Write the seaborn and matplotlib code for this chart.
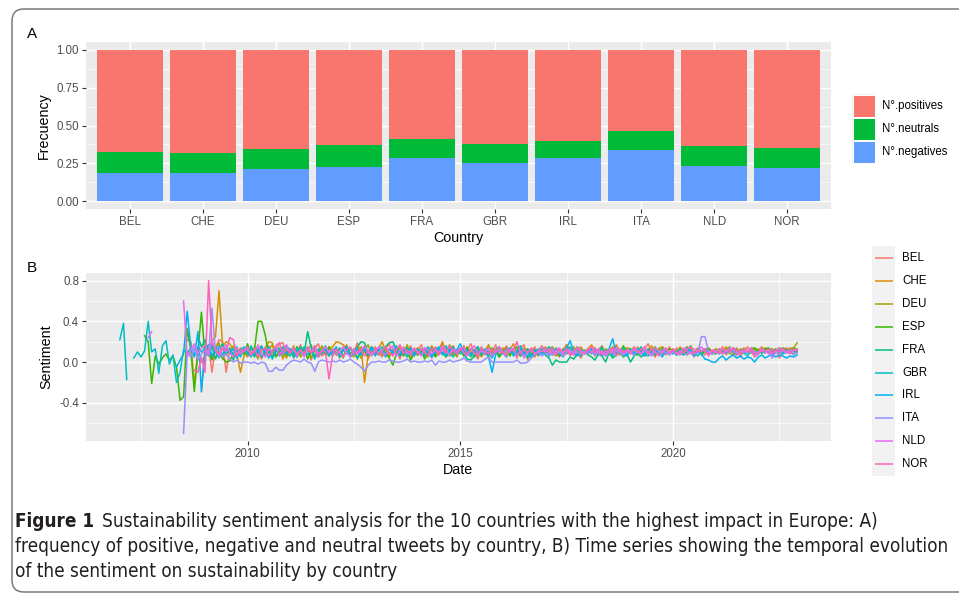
import numpy as np
import pandas as pd
import matplotlib
matplotlib.use("Agg")
import matplotlib.pyplot as plt
import matplotlib.dates as mdates
import matplotlib.font_manager as fm
from matplotlib.patches import FancyBboxPatch, Rectangle
from matplotlib.ticker import FixedLocator, FuncFormatter
import seaborn as sns

nan = np.nan

# ---------------- Panel A: share of tweets by polarity ----------------
countries = ["BEL", "CHE", "DEU", "ESP", "FRA", "GBR", "IRL", "ITA", "NLD", "NOR"]
share_negatives = [0.185, 0.185, 0.212, 0.225, 0.285, 0.252, 0.285, 0.338, 0.232, 0.219]
share_neutrals = [0.140, 0.133, 0.132, 0.146, 0.126, 0.125, 0.112, 0.126, 0.132, 0.132]
share_positives = [0.675, 0.682, 0.656, 0.629, 0.589, 0.623, 0.603, 0.536, 0.636, 0.649]
polarity_labels = ["N°.positives", "N°.neutrals", "N°.negatives"]
polarity_colors = ["#F8766D", "#00BA38", "#619CFF"]

# ---------------- Panel B: monthly mean sentiment ----------------
series_start = {
    "BEL": "2008-12-01", "CHE": "2008-08-01", "DEU": "2009-01-01",
    "ESP": "2007-08-01", "FRA": "2008-11-01", "GBR": "2007-01-01",
    "IRL": "2008-05-01", "ITA": "2008-07-01", "NLD": "2007-09-01",
    "NOR": "2008-10-01",
}

BEL = [
    -0.29,
    0.12, 0.16, -0.10, 0.14, 0.22, 0.20, -0.10, 0.12, 0.08, 0.05, 0.14, 0.10,
    0.05, 0.14, 0.08, 0.17, 0.03, 0.11, 0.16, 0.06, 0.12, 0.18, 0.19, 0.07,
    0.13, 0.04, 0.10, 0.17, 0.08, 0.12, 0.02, 0.14, 0.18, 0.06, 0.09, 0.15,
    0.07, 0.14, 0.04, 0.12, 0.17, 0.06, 0.10, 0.19, 0.08, 0.13, 0.03, 0.11,
    0.15, 0.09, 0.05, 0.13, 0.18, 0.07, 0.12, 0.03, 0.15, 0.09, 0.16, 0.06,
    0.12, 0.17, 0.07, 0.14, 0.04, 0.15, 0.09, 0.19, 0.05, 0.11, 0.16, 0.08,
    0.14, 0.06, 0.11, 0.18, 0.09, 0.03, 0.15, 0.07, 0.13, 0.10, 0.17, 0.05,
    0.10, 0.16, 0.07, 0.12, 0.04, 0.14, 0.17, 0.02, 0.10, 0.15, 0.06, 0.12,
    0.15, 0.07, 0.13, 0.09, 0.05, 0.12, 0.17, 0.08, 0.14, 0.10, 0.04, 0.12,
    0.09, 0.14, 0.06, 0.12, 0.16, 0.08, 0.13, 0.10, 0.17, 0.11, 0.06, 0.14,
    0.12, 0.07, 0.15, 0.09, 0.13, 0.18, 0.10, 0.05, 0.14, 0.11, 0.07, 0.15,
    0.09, 0.14, 0.07, 0.12, 0.15, 0.10, 0.05, 0.13, 0.11, 0.07, 0.14, 0.10,
    0.13, 0.09, 0.15, 0.07, 0.12, 0.10, 0.14, 0.05, 0.11, 0.15, 0.09, 0.07,
    0.11, 0.15, 0.09, 0.13, 0.06, 0.12, 0.04, 0.10, 0.14, 0.11, 0.07, 0.13,
]

CHE = [
    0.22, 0.20, -0.23, 0.13, 0.00,
    0.05, 0.12, 0.20, 0.25, 0.70, 0.15, 0.20, 0.18, 0.12, 0.08, -0.10, 0.06,
    0.13, 0.07, 0.15, 0.09, 0.04, 0.14, 0.20, 0.19, 0.06, 0.12, 0.03, 0.13,
    0.09, 0.16, 0.05, 0.13, 0.08, 0.11, 0.17, 0.04, 0.10, 0.15, 0.07, 0.13,
    0.15, 0.20, 0.19, 0.17, 0.12, 0.08, 0.05, 0.12, 0.15, -0.20, 0.07, 0.12,
    0.09, 0.14, 0.20, 0.11, 0.06, 0.13, 0.08, 0.16, 0.10, 0.13, 0.05, 0.11,
    0.14, 0.07, 0.13, 0.09, 0.16, 0.06, 0.12, 0.20, 0.09, 0.14, 0.07, 0.12,
    0.10, 0.16, 0.07, 0.13, 0.09, 0.15, 0.05, 0.11, 0.17, 0.08, 0.13, 0.07,
    0.14, 0.09, 0.12, 0.18, 0.10, 0.06, 0.14, 0.09, 0.13, 0.05, 0.11, 0.16,
    0.09, 0.13, 0.07, 0.14, 0.11, 0.08, 0.17, 0.12, 0.07, 0.11, 0.15, 0.09,
    0.13, 0.17, 0.10, 0.07, 0.14, 0.09, 0.12, 0.10, 0.16, 0.09, 0.13, 0.08,
    0.11, 0.15, 0.09, 0.13, 0.07, 0.12, 0.16, 0.09, 0.13, 0.15, 0.10, 0.08,
    0.13, 0.09, 0.15, 0.11, 0.07, 0.13, 0.09, 0.14, 0.10, 0.13, 0.08, 0.11,
    0.09, 0.13, 0.11, 0.15, 0.09, 0.07, 0.13, 0.10, 0.14, 0.09, 0.13, 0.11,
    0.13, 0.09, 0.14, 0.11, 0.13, 0.09, 0.14, 0.12, 0.10, 0.14, 0.13, 0.11,
]

DEU = [
    0.10, 0.17, 0.05, 0.14, 0.19, 0.03, 0.12, 0.08, 0.16, 0.05, 0.13, 0.09,
    0.06, 0.14, 0.10, 0.03, 0.15, 0.08, 0.12, 0.17, 0.06, 0.10, 0.14, 0.04,
    0.12, 0.07, 0.15, 0.05, 0.10, 0.14, 0.04, 0.12, 0.08, 0.16, 0.10, 0.06,
    0.13, 0.09, 0.05, 0.12, 0.16, 0.07, 0.13, 0.10, 0.04, 0.12, 0.17, 0.08,
    0.10, 0.14, 0.07, 0.15, 0.05, 0.12, 0.09, 0.14, 0.07, 0.17, 0.10, 0.12,
    0.07, 0.13, 0.10, 0.05, 0.15, 0.12, 0.07, 0.14, 0.09, 0.17, 0.12, 0.05,
    0.13, 0.09, 0.15, 0.07, 0.12, 0.05, 0.14, 0.10, 0.16, 0.07, 0.12, 0.14,
    0.10, 0.06, 0.13, 0.12, 0.07, 0.15, 0.09, 0.13, 0.06, 0.12, 0.10, 0.15,
    0.12, 0.15, 0.09, 0.06, 0.13, 0.08, 0.12, 0.10, 0.15, 0.08, 0.13, 0.10,
    0.08, 0.12, 0.14, 0.10, 0.06, 0.13, 0.11, 0.15, 0.09, 0.07, 0.12, 0.14,
    0.13, 0.09, 0.07, 0.14, 0.11, 0.09, 0.13, 0.07, 0.12, 0.15, 0.10, 0.13,
    0.11, 0.08, 0.13, 0.10, 0.15, 0.11, 0.08, 0.13, 0.09, 0.12, 0.14, 0.10,
    0.13, 0.11, 0.09, 0.13, 0.08, 0.14, 0.11, 0.09, 0.13, 0.11, 0.14, 0.12,
    0.10, 0.14, 0.12, 0.09, 0.13, 0.11, 0.14, 0.12, 0.10, 0.12, 0.14, 0.19,
]

ESP = [
    0.26, 0.20, -0.21, 0.06, -0.02,
    0.04, 0.08, 0.02, 0.06, -0.05, -0.375, -0.34, 0.33, 0.12, -0.29, 0.10, 0.49,
    0.06, 0.10, 0.02, 0.12, 0.08, 0.04, 0.00, 0.01, 0.09, 0.05, 0.12, 0.08,
    0.18, 0.06, 0.12, 0.40, 0.40, 0.27, 0.08, 0.12, 0.05, 0.10, 0.14, 0.09,
    0.12, 0.05, 0.15, 0.08, 0.13, 0.03, 0.10, 0.16, 0.07, 0.12, 0.08, 0.15,
    0.06, 0.13, 0.10, 0.04, 0.15, 0.08, 0.12, 0.03, 0.13, 0.10, 0.06, 0.15,
    0.10, 0.07, 0.12, 0.09, 0.04, -0.03, 0.08, 0.11, 0.06, 0.10, 0.02, 0.09,
    0.07, 0.11, 0.03, 0.09, 0.12, 0.05, 0.10, 0.08, 0.13, 0.06, 0.10, 0.09,
    0.12, 0.06, 0.14, 0.10, 0.05, 0.15, 0.08, 0.12, 0.06, 0.14, 0.10, 0.05,
    0.10, 0.14, 0.06, 0.12, 0.15, 0.08, 0.10, 0.13, 0.05, 0.12, 0.08, 0.14,
    0.08, 0.12, 0.15, 0.09, 0.06, 0.13, 0.08, 0.12, 0.10, 0.15, 0.06, 0.10,
    0.13, 0.08, 0.12, 0.10, 0.15, 0.06, 0.12, 0.08, 0.13, 0.10, 0.16, 0.08,
    0.10, 0.13, 0.07, 0.12, 0.06, 0.13, 0.10, 0.15, 0.08, 0.12, 0.10, 0.13,
    0.11, 0.07, 0.13, 0.09, 0.11, 0.16, 0.09, 0.13, 0.07, 0.11, 0.13, 0.09,
    0.08, 0.13, 0.10, 0.11, 0.15, 0.09, 0.07, 0.13, 0.11, 0.09, 0.13, 0.14,
    0.11, 0.09, 0.13, 0.14, 0.10, 0.13, 0.09, 0.14, 0.12, 0.10, 0.14, 0.12,
]

FRA = [
    0.25, 0.15,
    0.22, 0.08, 0.15, 0.03, 0.13, 0.18, 0.07, 0.14, 0.02, 0.12, 0.06, 0.13,
    0.08, 0.14, 0.05, 0.12, 0.16, 0.06, 0.10, 0.04, 0.13, 0.08, 0.15, 0.09,
    0.06, 0.13, 0.09, 0.15, 0.08, 0.30, 0.14, 0.05, 0.12, 0.08, 0.13, 0.06,
    0.12, 0.07, 0.14, 0.06, 0.10, 0.13, 0.08, 0.15, 0.20, 0.19, 0.09, 0.13,
    0.08, 0.14, 0.10, 0.15, 0.19, 0.20, 0.12, 0.06, 0.11, 0.14, 0.07, 0.12,
    0.10, 0.13, 0.06, 0.11, 0.14, 0.08, 0.12, 0.09, 0.05, 0.11, 0.15, 0.08,
    0.12, 0.08, 0.03, 0.02, 0.06, 0.11, 0.07, 0.12, 0.10, 0.08, 0.11, 0.06,
    0.09, 0.07, 0.11, 0.08, 0.10, 0.06, 0.09, 0.04, 0.08, 0.10, 0.07, 0.09,
    0.07, 0.04, -0.03, 0.02, 0.00, 0.00, 0.00, 0.05, 0.03, 0.08, 0.06, 0.10,
    0.07, 0.05, 0.02, 0.08, 0.06, 0.00, 0.09, 0.04, 0.07, 0.10, 0.05, 0.08,
    0.00, 0.06, 0.09, 0.05, 0.08, 0.06, 0.10, 0.07, 0.11, 0.08, 0.09, 0.10,
    0.08, 0.11, 0.09, 0.07, 0.10, 0.12, 0.08, 0.10, 0.09, 0.11, 0.08, 0.10,
    0.10, 0.08, 0.11, 0.09, 0.12, 0.10, 0.08, 0.11, 0.09, 0.10, 0.12, 0.09,
    0.11, 0.09, 0.10, 0.12, 0.08, 0.11, 0.10, 0.09, 0.12, 0.10, 0.11, 0.10,
]

GBR = [
    0.22, 0.38, -0.17, nan, 0.04, 0.10, 0.05, 0.11, 0.40, 0.10, 0.13, -0.11,
    0.16, 0.21, -0.02, 0.07, -0.20, -0.10, 0.12, 0.09, 0.14, 0.06, 0.15, 0.10,
    0.14, 0.06, 0.17, 0.10, 0.04, 0.15, 0.09, 0.13, 0.07, 0.15, 0.05, 0.12,
    0.09, 0.16, 0.07, 0.13, 0.05, 0.11, 0.15, 0.03, 0.10, 0.14, 0.07, 0.16,
    0.12, 0.05, 0.14, 0.09, 0.15, 0.07, 0.11, 0.03, 0.13, 0.09, 0.16, 0.07,
    0.10, 0.15, 0.05, 0.12, 0.08, 0.14, 0.09, 0.04, 0.12, 0.15, 0.07, 0.13,
    0.06, 0.12, 0.15, 0.07, 0.13, 0.09, 0.16, 0.07, 0.12, 0.05, 0.13, 0.09,
    0.13, 0.07, 0.12, 0.15, 0.05, 0.10, 0.14, 0.07, 0.16, 0.09, 0.05, 0.12,
    0.08, 0.14, 0.10, 0.05, 0.12, 0.15, 0.07, 0.13, 0.09, 0.04, 0.12, 0.15,
    0.09, 0.05, 0.13, 0.08, 0.12, 0.16, 0.09, 0.06, 0.13, 0.11, 0.07, 0.14,
    0.11, 0.15, 0.07, 0.13, 0.09, 0.05, 0.12, 0.15, 0.09, 0.13, 0.07, 0.11,
    0.09, 0.13, 0.11, 0.07, 0.14, 0.09, 0.13, 0.06, 0.12, 0.10, 0.14, 0.08,
    0.13, 0.09, 0.11, 0.15, 0.08, 0.13, 0.09, 0.12, 0.07, 0.13, 0.11, 0.09,
    0.11, 0.07, 0.13, 0.09, 0.14, 0.11, 0.09, 0.06, 0.11, 0.13, 0.09, 0.08,
    0.09, 0.13, 0.08, 0.11, 0.09, 0.13, 0.07, 0.11, 0.09, 0.06, 0.11, 0.09,
    0.08, 0.11, 0.09, 0.13, 0.07, 0.10, 0.12, 0.08, 0.10, 0.12, 0.08, 0.10,
]

IRL = [
    -0.05, 0.02, 0.08, 0.50, 0.15, 0.05, 0.30, -0.29,
    0.13, 0.17, 0.06, 0.12, 0.16, 0.07, 0.14, 0.09, 0.13, 0.04, 0.11, 0.15,
    0.09, 0.05, 0.13, 0.08, 0.15, 0.11, 0.04, 0.10, 0.14, 0.06, 0.12, 0.08,
    0.13, 0.09, 0.05, 0.12, 0.07, 0.15, 0.09, 0.13, 0.05, 0.10, 0.12, 0.07,
    0.10, 0.14, 0.07, 0.12, 0.15, 0.05, 0.09, 0.13, 0.07, 0.12, 0.09, 0.15,
    0.08, 0.12, 0.10, 0.05, 0.13, 0.09, 0.15, 0.07, 0.12, 0.09, 0.14, 0.06,
    0.12, 0.07, 0.14, 0.09, 0.05, 0.12, 0.15, 0.09, 0.07, 0.13, 0.10, 0.12,
    0.18, 0.10, 0.12, 0.08, 0.11, 0.09, 0.12, 0.10, 0.05, -0.10, 0.08, 0.12,
    0.08, 0.12, 0.14, 0.06, 0.10, 0.13, 0.07, 0.12, 0.05, 0.10, 0.13, 0.08,
    0.12, 0.06, 0.10, 0.13, 0.08, 0.11, 0.14, 0.21, 0.09, 0.06, 0.12, 0.08,
    0.10, 0.13, 0.07, 0.12, 0.06, 0.10, 0.13, 0.23, 0.08, 0.12, 0.09, 0.06,
    0.12, 0.08, 0.13, 0.10, 0.06, 0.12, 0.08, 0.13, 0.10, 0.05, 0.12, 0.08,
    0.10, 0.07, 0.12, 0.08, 0.13, 0.10, 0.06, 0.12, 0.08, 0.03, 0.02, 0.00,
    0.00, 0.04, 0.06, 0.02, 0.05, 0.07, 0.04, 0.06, 0.03, 0.05, 0.04, 0.00,
    0.05, 0.07, 0.04, 0.06, 0.08, 0.05, 0.07, 0.06, 0.04, 0.06, 0.05, 0.07,
]

ITA = [
    -0.70, 0.10, 0.05, 0.15, 0.02, 0.08,
    0.12, 0.06, 0.53, 0.10, 0.15, 0.05, 0.08, 0.03, 0.00, 0.02, -0.01, 0.00,
    0.00, -0.01, 0.00, -0.02, 0.00, -0.01, -0.09, -0.09, -0.05, -0.08, -0.08, -0.03,
    0.00, 0.02, 0.01, 0.00, 0.03, 0.00, -0.01, -0.09, 0.00, 0.02, 0.01, 0.00,
    0.01, 0.00, 0.02, 0.00, 0.01, 0.03, 0.00, -0.02, -0.05, -0.09, -0.03, 0.00,
    0.00, 0.01, 0.00, 0.00, 0.02, 0.01, 0.00, 0.00, 0.01, 0.03, 0.00, 0.01,
    0.00, 0.00, 0.01, 0.00, 0.02, -0.03, 0.01, 0.00, 0.00, 0.02, 0.00, 0.01,
    0.02, 0.04, 0.01, 0.00, 0.00, 0.00, 0.00, 0.03, 0.05, 0.00, 0.00, 0.00,
    0.00, 0.00, 0.00, 0.00, 0.02, -0.01, -0.01, 0.00, 0.04, 0.07, 0.10, 0.06,
    0.09, 0.07, 0.11, 0.08, 0.10, 0.06, 0.09, 0.12, 0.08, 0.10, 0.07, 0.11,
    0.08, 0.10, 0.07, 0.11, 0.09, 0.06, 0.10, 0.08, 0.12, 0.09, 0.07, 0.10,
    0.09, 0.07, 0.10, 0.08, 0.11, 0.09, 0.06, 0.10, 0.08, 0.11, 0.09, 0.07,
    0.10, 0.08, 0.11, 0.09, 0.07, 0.10, 0.08, 0.09, 0.25, 0.25, 0.10, 0.08,
    0.10, 0.12, 0.08, 0.11, 0.09, 0.14, 0.10, 0.08, 0.11, 0.09, 0.12, 0.10,
    0.08, 0.11, 0.09, 0.12, 0.04, 0.10, 0.08, 0.11, 0.09, 0.10, 0.08, 0.09,
]

NLD = [
    0.24, 0.30, nan, nan,
    nan, nan, nan, nan, nan, nan, 0.60, 0.05, 0.12, 0.18, 0.08, 0.14,
    0.16, 0.08, 0.21, 0.12, 0.06, 0.13, 0.17, 0.09, 0.05, 0.14, 0.08, 0.12,
    0.13, 0.07, 0.11, 0.16, 0.09, 0.05, 0.13, 0.10, 0.15, 0.07, 0.12, 0.17,
    0.09, 0.14, 0.07, 0.12, 0.05, 0.13, 0.10, 0.16, 0.08, 0.11, 0.15, 0.09,
    0.13, 0.07, 0.11, 0.15, 0.09, 0.05, 0.13, 0.08, 0.12, 0.16, 0.10, 0.06,
    0.11, 0.15, 0.09, 0.07, 0.13, 0.16, 0.06, 0.11, 0.14, 0.09, 0.07, 0.13,
    0.10, 0.06, 0.14, 0.12, 0.08, 0.13, 0.09, 0.16, 0.11, 0.07, 0.13, 0.10,
    0.14, 0.09, 0.06, 0.13, 0.16, 0.08, 0.11, 0.09, 0.14, 0.06, 0.12, 0.11,
    0.08, 0.13, 0.10, 0.14, 0.06, 0.11, 0.04, 0.10, 0.13, 0.08, 0.11, 0.15,
    0.10, 0.13, 0.07, 0.11, 0.14, 0.08, 0.13, 0.10, 0.07, 0.15, 0.11, 0.08,
    0.13, 0.09, 0.14, 0.08, 0.11, 0.07, 0.13, 0.10, 0.14, 0.11, 0.08, 0.12,
    0.10, 0.14, 0.11, 0.08, 0.13, 0.10, 0.07, 0.14, 0.11, 0.09, 0.13, 0.08,
    0.12, 0.09, 0.07, 0.14, 0.11, 0.08, 0.13, 0.10, 0.15, 0.11, 0.08, 0.12,
    0.11, 0.08, 0.13, 0.10, 0.14, 0.11, 0.07, 0.12, 0.10, 0.11, 0.14, 0.09,
    0.10, 0.13, 0.11, 0.08, 0.12, 0.10, 0.14, 0.11, 0.09, 0.12, 0.11, 0.12,
]

NOR = [
    -0.08, -0.10, 0.05,
    -0.10, 0.80, 0.20, 0.12, 0.08, 0.15, 0.10, 0.24, 0.22, 0.06, 0.12, 0.10,
    0.15, 0.07, 0.13, 0.05, 0.11, 0.14, 0.06, 0.10, 0.16, 0.19, 0.08, 0.13,
    0.09, 0.14, 0.06, 0.12, 0.08, 0.15, 0.09, 0.13, 0.05, 0.11, 0.10, -0.165,
    0.07, 0.13, 0.09, 0.05, 0.12, 0.15, 0.08, 0.10, 0.13, 0.06, 0.12, 0.08,
    0.13, 0.07, 0.11, 0.15, 0.09, 0.06, 0.12, 0.17, 0.08, 0.12, 0.09, 0.14,
    0.08, 0.13, 0.10, 0.06, 0.14, 0.11, 0.07, 0.13, 0.09, 0.16, 0.11, 0.08,
    0.12, 0.15, 0.07, 0.13, 0.09, 0.06, 0.14, 0.11, 0.08, 0.13, 0.09, 0.15,
    0.10, 0.06, 0.13, 0.11, 0.20, 0.08, 0.13, 0.09, 0.14, 0.07, 0.11, 0.10,
    0.13, 0.09, 0.14, 0.07, 0.12, 0.10, 0.13, 0.06, 0.11, 0.14, 0.09, 0.08,
    0.12, 0.15, 0.09, 0.13, 0.07, 0.11, 0.09, 0.14, 0.06, 0.13, 0.10, 0.12,
    0.08, 0.13, 0.10, 0.12, 0.15, 0.08, 0.13, 0.10, 0.06, 0.11, 0.14, 0.09,
    0.13, 0.08, 0.11, 0.09, 0.13, 0.15, 0.08, 0.12, 0.10, 0.13, 0.06, 0.11,
    0.09, 0.13, 0.08, 0.12, 0.10, 0.14, 0.11, 0.08, 0.13, 0.10, 0.12, 0.05,
    0.08, 0.12, 0.10, 0.13, 0.08, 0.12, 0.10, 0.13, 0.11, 0.08, 0.13, 0.11,
]

series_values = {"BEL": BEL, "CHE": CHE, "DEU": DEU, "ESP": ESP, "FRA": FRA,
                 "GBR": GBR, "IRL": IRL, "ITA": ITA, "NLD": NLD, "NOR": NOR}
line_colors = ["#F8766D", "#D89000", "#A3A500", "#39B600", "#00BF7D",
               "#00BFC4", "#00B0F6", "#9590FF", "#E76BF3", "#FF62BC"]

caption_lines = [
    "Sustainability sentiment analysis for the 10 countries with the highest impact in Europe: A)",
    "frequency of positive, negative and neutral tweets by country, B) Time series showing the temporal evolution",
    "of the sentiment on sustainability by country",
]

# ---------------- styling ----------------
plt.rcParams["font.family"] = ["Liberation Sans", "DejaVu Sans"]
TICK_GREY = "#4D4D4D"
PANEL_BG = "#EBEBEB"
W, H = 959, 595


def frac_rect(left, top, right, bottom):
    return [left / W, 1 - bottom / H, (right - left) / W, (bottom - top) / H]


def ggplot_look(ax):
    ax.set_facecolor(PANEL_BG)
    for s in ax.spines.values():
        s.set_visible(False)
    ax.set_axisbelow(True)
    ax.grid(which="major", color="white", linewidth=1.05)
    ax.grid(which="minor", color="white", linewidth=0.5)
    ax.tick_params(which="major", length=3, width=0.8, color="#333333",
                   labelcolor=TICK_GREY, labelsize=8.3, pad=2)
    ax.tick_params(which="minor", length=0)


fig = plt.figure(figsize=(W / 100, H / 100), dpi=100)

# ---------------- Panel A ----------------
axA = fig.add_axes(frac_rect(86, 42, 831, 209))
neg = np.array(share_negatives)
neu = np.array(share_neutrals)
pos = np.array(share_positives)
for heights, col in [(neg + neu + pos, polarity_colors[0]),
                     (neg + neu, polarity_colors[1]),
                     (neg, polarity_colors[2])]:
    sns.barplot(x=countries, y=heights, order=countries, color=col,
                saturation=1, width=0.9, linewidth=0, errorbar=None, ax=axA)
ggplot_look(axA)
axA.set_xlim(-0.6, len(countries) - 0.4)
axA.set_ylim(-0.05, 1.05)
axA.yaxis.set_major_locator(FixedLocator([0, 0.25, 0.5, 0.75, 1.0]))
axA.yaxis.set_minor_locator(FixedLocator([0.125, 0.375, 0.625, 0.875]))
axA.yaxis.set_major_formatter(FuncFormatter(lambda v, p: f"{v:.2f}"))
axA.grid(which="minor", axis="x", visible=False)
axA.set_xlabel("Country", fontsize=10.3, labelpad=2)
axA.set_ylabel("Frecuency", fontsize=10.3, labelpad=4)

# ---------------- Panel B ----------------
rows = []
for name in countries:
    vals = series_values[name]
    dates = pd.date_range(series_start[name], periods=len(vals), freq="MS")
    seg = 0
    for d, v in zip(dates, vals):
        if np.isnan(v):
            seg += 1
            continue
        rows.append({"Date": d, "Sentiment": v, "Country": name,
                     "run": f"{name}-{seg}"})
ts = pd.DataFrame(rows)

axB = fig.add_axes(frac_rect(86, 273, 831, 441))
sns.lineplot(data=ts, x="Date", y="Sentiment", hue="Country", hue_order=countries,
             palette=line_colors, units="run", estimator=None, linewidth=1.1,
             legend=False, ax=axB)
ggplot_look(axB)

d0 = mdates.date2num(ts["Date"].min())
d1 = mdates.date2num(ts["Date"].max())
pad = 0.05 * (d1 - d0)
axB.set_xlim(d0 - pad, d1 + pad)
y0, y1 = ts["Sentiment"].min(), ts["Sentiment"].max()
ypad = 0.05 * (y1 - y0)
axB.set_ylim(y0 - ypad, y1 + ypad)

major_years = [2005, 2010, 2015, 2020, 2025]
major_dates = [mdates.date2num(pd.Timestamp(f"{y}-01-01")) for y in major_years]
minor_dates = [(a + b) / 2 for a, b in zip(major_dates[:-1], major_dates[1:])]
axB.xaxis.set_major_locator(FixedLocator(major_dates))
axB.xaxis.set_minor_locator(FixedLocator(minor_dates))
axB.xaxis.set_major_formatter(mdates.DateFormatter("%Y"))
axB.yaxis.set_major_locator(FixedLocator([-0.4, 0.0, 0.4, 0.8]))
axB.yaxis.set_minor_locator(FixedLocator([-0.6, -0.2, 0.2, 0.6]))
axB.yaxis.set_major_formatter(FuncFormatter(lambda v, p: f"{v:.1f}"))
axB.set_xlabel("Date", fontsize=10.3, labelpad=2)
axB.set_ylabel("Sentiment", fontsize=10.3, labelpad=4)

# ---------------- overlay: panel tags, legends, caption, frame ----------------
ov = fig.add_axes([0, 0, 1, 1], zorder=5)
ov.set_xlim(0, W)
ov.set_ylim(H, 0)
ov.axis("off")
ov.patch.set_alpha(0)

ov.add_patch(FancyBboxPatch((12, 9), 980, 583,
                            boxstyle="round,pad=0,rounding_size=12",
                            fill=False, edgecolor="#7A7A7A", linewidth=1.1,
                            clip_on=False))

ov.text(27, 34, "A", fontsize=11, va="center", ha="left")
ov.text(27, 268, "B", fontsize=11, va="center", ha="left")

# fill legend
ov.add_patch(Rectangle((852, 94), 24, 70, facecolor="#F2F2F2", edgecolor="none"))
for i, (lab, col) in enumerate(zip(polarity_labels, polarity_colors)):
    top = 95 + i * 23
    ov.add_patch(Rectangle((853, top), 22, 22, facecolor=col,
                           edgecolor="white", linewidth=0.7))
    ov.text(882, top + 11, lab, fontsize=8.3, va="center", ha="left")

# colour legend
ov.add_patch(Rectangle((872, 246), 23, 230, facecolor="#F2F2F2", edgecolor="none"))
for i, (lab, col) in enumerate(zip(countries, line_colors)):
    yy = 257.7 + i * 22.96
    ov.plot([875, 893], [yy, yy], color=col, linewidth=1.1, solid_capstyle="butt")
    ov.text(902, yy, lab, fontsize=8.3, va="center", ha="left")

# caption
names = {f.name for f in fm.fontManager.ttflist}
if "Liberation Sans Narrow" in names:
    cap_font = dict(family="Liberation Sans Narrow")
else:
    cap_font = dict(family="DejaVu Sans", stretch="condensed")

renderer = fig.canvas.get_renderer()
probe = ov.text(0, 0, caption_lines[1], fontsize=12, **cap_font)
probe_w = probe.get_window_extent(renderer).width
probe.remove()
cap_size = 12 * 935 / probe_w

baselines = [527, 552, 577]
lead = ov.text(15, baselines[0], "Figure 1", fontsize=cap_size, fontweight="bold",
               va="baseline", ha="left", color="#231F20", **cap_font)
lead_x1 = lead.get_window_extent(renderer).x1
ov.text(lead_x1 + 0.55 * cap_size, baselines[0], caption_lines[0], fontsize=cap_size,
        va="baseline", ha="left", color="#231F20", **cap_font)
for line, yb in zip(caption_lines[1:], baselines[1:]):
    ov.text(15, yb, line, fontsize=cap_size, va="baseline", ha="left",
            color="#231F20", **cap_font)

fig.savefig("out.png", dpi=100)
